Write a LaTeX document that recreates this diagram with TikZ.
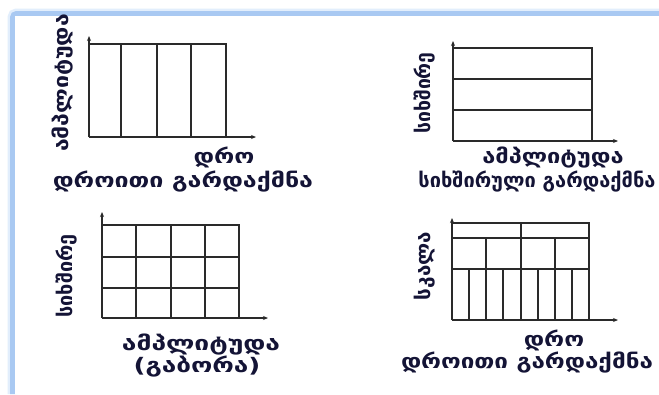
\documentclass[tikz,border=0pt]{standalone}
\usepackage{fontspec}
\newfontfamily\geofont{DejaVu Sans}
\usetikzlibrary{arrows.meta}
\definecolor{frameblue}{HTML}{A9C9F2}
\definecolor{glowblue}{HTML}{E2EEFC}
\definecolor{inkblue}{HTML}{141436}
\definecolor{axisgray}{HTML}{2A2A2A}
\tikzset{
  lbl/.style={font=\geofont\bfseries\fontsize{20}{23}\selectfont, text=inkblue, inner sep=0pt},
  ylbl/.style={lbl, rotate=90},
  sx/.style={xscale=#1},
  grid/.style={draw=axisgray, line width=1.6pt},
  axisline/.style={draw=axisgray, line width=1.6pt, -{Stealth[length=5pt,width=4pt]}},
}
\begin{document}
\begin{tikzpicture}[x=1pt,y=-1pt]
\useasboundingbox[fill=white] (0,0) rectangle (659,394);
% frame
\draw[glowblue, line width=10pt, rounded corners=4pt] (12.5,394) -- (12.5,13.5) -- (659,13.5);
\draw[frameblue, line width=5pt, rounded corners=4pt] (12.5,394) -- (12.5,13.5) -- (659,13.5);
\fill[white] (15,16) rectangle (659,394);

% ---------- panel 1 ----------
\draw[grid] (89,44) -- (226,44) -- (226,137);
\foreach \x in {121,157,191} \draw[grid] (\x,44) -- (\x,137);
\draw[axisline] (89,137) -- (89,36);
\draw[axisline] (89,137) -- (256,137);
\node[ylbl, sx=1.15] (y1) at (63,83) {ამპლიტუდა};
\node[lbl, sx=1.23] (x1) at (224,157) {დრო};
\node[lbl, sx=1.25] (c1) at (183,182) {დროითი გარდაქმნა};

% ---------- panel 2 ----------
\draw[grid] (453,48) -- (592,48) -- (592,141);
\foreach \y in {79,110} \draw[grid] (453,\y) -- (592,\y);
\draw[axisline] (453,141) -- (453,41);
\draw[axisline] (453,141) -- (618,141);
\node[ylbl, sx=0.97] (y2) at (425,93) {სიხშირე};
\node[lbl, sx=1.18] (x2) at (553,158) {ამპლიტუდა};
\node[lbl, sx=1.00] (c2) at (537,182) {სიხშირული გარდაქმნა};

% ---------- panel 3 ----------
\draw[grid] (102,225) -- (239,225) -- (239,318);
\foreach \x in {136,171,205} \draw[grid] (\x,225) -- (\x,318);
\foreach \y in {257,288} \draw[grid] (102,\y) -- (239,\y);
\draw[axisline] (102,318) -- (102,212);
\draw[axisline] (102,318) -- (268,318);
\node[ylbl, sx=0.99] (y3) at (67,276) {სიხშირე};
\node[lbl, sx=1.32] (x3) at (201,345) {ამპლიტუდა};
\node[lbl, sx=1.31] (x3b) at (197,367) {(გაბორა)};

% ---------- panel 4 ----------
\draw[grid] (452,223) -- (589,223) -- (589,320);
\foreach \y in {238,269} \draw[grid] (452,\y) -- (589,\y);
\draw[grid] (521,223) -- (521,238);
\foreach \x in {486,521,555} \draw[grid] (\x,238) -- (\x,269);
\foreach \x in {469,486,503,521,538,555,572} \draw[grid] (\x,269) -- (\x,320);
\draw[axisline] (452,320) -- (452,218);
\draw[axisline] (452,320) -- (618,320);
\node[ylbl, sx=1.03] (y4) at (425,266) {სკალა};
\node[lbl, sx=1.22] (x4) at (554,340) {დრო};
\node[lbl, sx=1.21] (c4) at (527,363) {დროითი გარდაქმნა};
\end{tikzpicture}
\end{document}
